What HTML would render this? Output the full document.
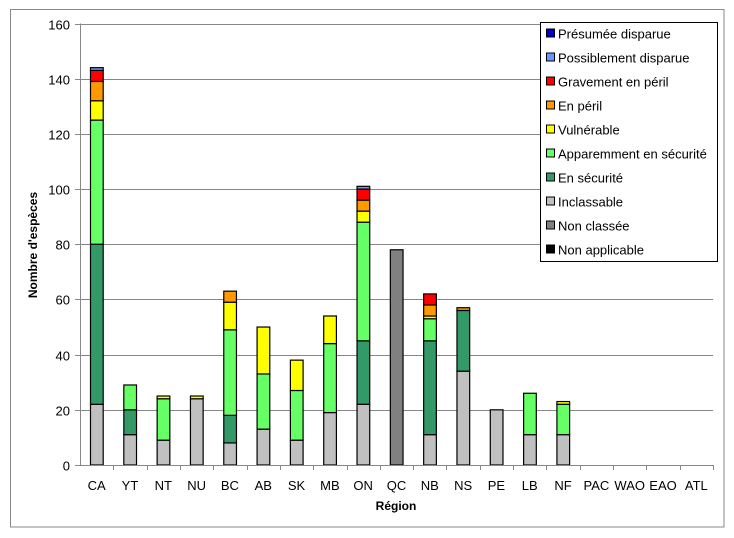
<!DOCTYPE html>
<html><head><meta charset="utf-8"><style>
body{margin:0;background:#fff;}
svg{display:block;font-family:"Liberation Sans",Calibri,sans-serif;}
</style></head><body>
<svg id="c" width="734" height="538">
<rect x="10.5" y="9.5" width="713.5" height="517.5" fill="#fff" stroke="#888"/>
<g id="grid"></g><g id="bars"></g><g id="axes"></g>
<text x="0" y="0" transform="translate(37,245) rotate(-90)" text-anchor="middle" font-size="12" font-weight="bold">Nombre d'espèces</text>
<text x="396" y="510" text-anchor="middle" font-size="12" font-weight="bold">Région</text>
<g id="legend"></g>
</svg>
<script>
const categories=["CA","YT","NT","NU","BC","AB","SK","MB","ON","QC","NB","NS","PE","LB","NF","PAC","WAO","EAO","ATL"];
const seriesNames=["Inclassable","En sécurité","Apparemment en sécurité","Vulnérable","En péril","Gravement en péril","Possiblement disparue","Présumée disparue","Non classée","Non applicable"];
const seriesColors=["#c0c0c0","#339966","#66ff66","#ffff00","#ff9900","#ff0000","#6699ff","#0000cc","#808080","#000000"];
const inclassable=[22,11,9,24,8,13,9,19,22,0,11,34,20,11,11,0,0,0,0];
const enSecurite=[58,9,0,0,10,0,0,0,23,0,34,22,0,0,0,0,0,0,0];
const apparemment=[45,9,15,0,31,20,18,25,43,0,8,0,0,15,11,0,0,0,0];
const vulnerable=[7,0,1,1,10,17,11,10,4,0,1,0,0,0,1,0,0,0,0];
const enPeril=[7,0,0,0,4,0,0,0,4,0,4,1,0,0,0,0,0,0,0];
const gravement=[4,0,0,0,0,0,0,0,4,0,4,0,0,0,0,0,0,0,0];
const possiblement=[1,0,0,0,0,0,0,0,1,0,0,0,0,0,0,0,0,0,0];
const presumee=[0,0,0,0,0,0,0,0,0,0,0,0,0,0,0,0,0,0,0];
const nonClassee=[0,0,0,0,0,0,0,0,0,78,0,0,0,0,0,0,0,0,0];
const nonApplicable=[0,0,0,0,0,0,0,0,0,0,0,0,0,0,0,0,0,0,0];
const yTicks=[0,20,40,60,80,100,120,140,160];
const series=[inclassable,enSecurite,apparemment,vulnerable,enPeril,gravement,possiblement,presumee,nonClassee,nonApplicable];
const NS="http://www.w3.org/2000/svg";
const L=80,R=713,T=23.5,B=465,YMAX=160;
const band=(R-L)/categories.length;
const y=v=>B-(v/YMAX)*(B-T);
const xb=i=>L+i*band;
function mk(tag,attrs,parent){const e=document.createElementNS(NS,tag);for(const k in attrs)e.setAttribute(k,attrs[k]);parent.appendChild(e);return e;}
const grid=document.getElementById('grid'),bars=document.getElementById('bars'),axes=document.getElementById('axes'),leg=document.getElementById('legend');
yTicks.forEach(t=>{
  const yy=Math.round(y(t))+0.5;
  if(t>0){const g=mk('line',{x1:L,x2:R,y1:yy,y2:yy,stroke:'#888'},grid);
  
  }
  const tk=mk('line',{x1:75,x2:L,y1:yy,y2:yy,stroke:'#888'},axes);
  
  
  const tx=mk('text',{x:70,y:yy+5,'text-anchor':'end','font-size':13},axes);
  tx.textContent=t;
  
  
});
const ya=mk('line',{x1:80.5,x2:80.5,y1:T,y2:B,stroke:'#888'},axes);


const xa=mk('line',{x1:L,x2:R,y1:B+0.5,y2:B+0.5,stroke:'#888'},axes);


categories.forEach((c,i)=>{
  const xx=Math.round(xb(i+1))+0.5;
  const tk=mk('line',{x1:xx,x2:xx,y1:B,y2:B+5,stroke:'#888'},axes);
  
  
  const tx=mk('text',{x:xb(i)+band/2,y:490,'text-anchor':'middle','font-size':13},axes);
  tx.textContent=c;
  
  
  let cum=0;
  series.forEach((s,k)=>{
    const v=s[i];if(!v)return;
    const y1=y(cum+v),y0=y(cum);cum+=v;
    const r=mk('rect',{x:xb(i)+10.5,y:y1,width:12.7,height:y0-y1,fill:seriesColors[k],stroke:'#000','stroke-width':1.2},bars);
    
    
  });
});
const lb=mk('rect',{x:540.5,y:22.5,width:177,height:239,fill:'#fff',stroke:'#000'},leg);


const order=[7,6,5,4,3,2,1,0,8,9];
order.forEach((k,j)=>{
  const yy=34+j*24;
  const sw=mk('rect',{x:546.5,y:yy-5,width:8,height:8,fill:seriesColors[k],stroke:'#000'},leg);
  
  
  const tx=mk('text',{x:558,y:yy+4.5,'font-size':13},leg);
  tx.textContent=seriesNames[k];
  
  
});
</script>
</body></html>
